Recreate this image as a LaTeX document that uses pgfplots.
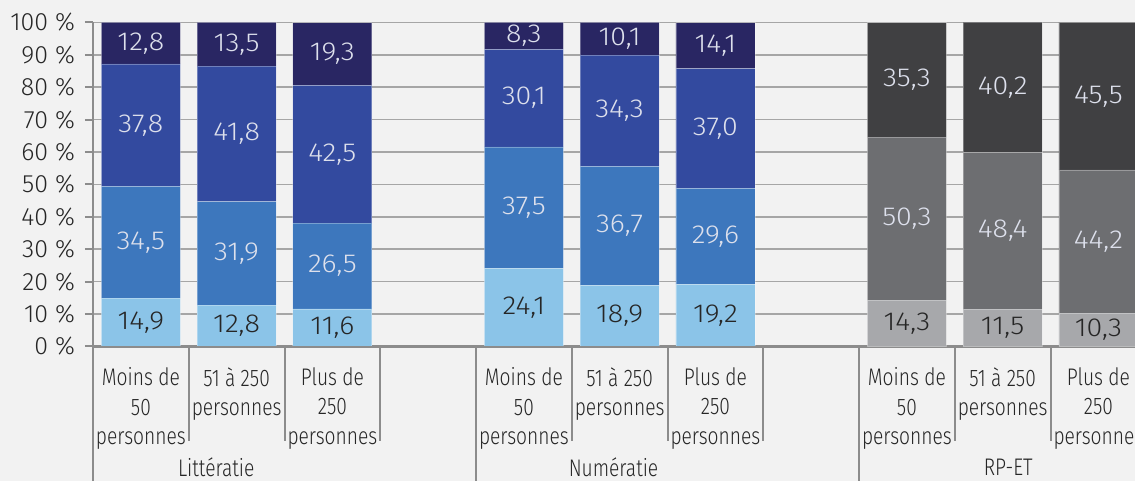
\documentclass[border=0pt]{standalone}
\usepackage{pgfplots}
\pgfplotsset{compat=1.18}
\usepackage{fontspec}
\setmainfont{Fira Sans}[UprightFont={* Light}, FakeStretch=0.8]
\newfontfamily\numf{Fira Sans}[UprightFont={* Light}, FakeStretch=1.1]
\newfontfamily\tickf{Fira Sans}[UprightFont={* Light}, FakeStretch=1.0]
\definecolor{bgc}{HTML}{F2F2F2}
\definecolor{lb}{HTML}{8BC4E8}
\definecolor{mb}{HTML}{3D77BD}
\definecolor{rb}{HTML}{334A9F}
\definecolor{nv}{HTML}{292663}
\definecolor{ga}{HTML}{A7A8AB}
\definecolor{gb}{HTML}{6D6E71}
\definecolor{gc}{HTML}{404042}
\definecolor{axc}{HTML}{8C8C8C}
\definecolor{grc}{HTML}{A6A6A6}
\definecolor{dtxt}{HTML}{262626}
\definecolor{ltxt}{HTML}{DDE0EC}
\pgfplotsset{
  base/.style={
    scale only axis, width=521pt, height=162pt,
    xmin=-0.5, xmax=10.382, ymin=0, ymax=100,
    /pgf/number format/assume math mode=true,
  },
  seg/.style={fill=#1, draw=white, draw opacity=0.3, line width=0.4pt},
}
\newcommand{\lab}{\fontsize{12}{14.75}\selectfont}
\newcommand{\vlab}{\numf\fontsize{13}{15}\selectfont}
\newcommand{\tlab}{\tickf\fontsize{12.5}{15}\selectfont}
\begin{document}
\begin{tikzpicture}
\fill[bgc] (-46.5pt,-67.25pt) rectangle (521pt,173.25pt);
% Axis A: grid, y axis, blue bars
\begin{axis}[base,
  ybar stacked, bar width=39.5pt,
  axis x line*=bottom, axis y line*=left,
  axis line style={axc, line width=1pt},
  xtick=\empty,
  ytick={0,10,...,100},
  yticklabels={0 \%,10 \%,20 \%,30 \%,40 \%,50 \%,60 \%,70 \%,80 \%,90 \%,100 \%},
  yticklabel style={font=\tlab, text=dtxt, xshift=-1.5pt},
  tick align=outside, major tick length=4pt,
  tick style={axc, line width=1pt},
  ymajorgrids, grid style={grc, line width=0.8pt},
]
\addplot[seg=lb] coordinates {(0,14.9) (1,12.8) (2,11.6) (4,24.1) (5,18.9) (6,19.2)};
\addplot[seg=mb] coordinates {(0,34.5) (1,31.9) (2,26.5) (4,37.5) (5,36.7) (6,29.6)};
\addplot[seg=rb] coordinates {(0,37.8) (1,41.8) (2,42.5) (4,30.1) (5,34.3) (6,37.0)};
\addplot[seg=nv] coordinates {(0,12.8) (1,13.5) (2,19.3) (4,8.3) (5,10.1) (6,14.1)};
\end{axis}
% Axis B: grey bars, category separators
\begin{axis}[base,
  ybar stacked, bar width=39.5pt,
  axis x line*=bottom, axis y line=none,
  axis line style={axc, line width=1pt},
  ytick=\empty,
  xtick={-0.5,3.5,7.5}, xticklabels={},
  minor xtick={0.5,1.5,2.5,4.5,5.5,6.5,8.5,9.5},
  tick align=outside, major tick length=72pt, minor tick length=47pt,
  tick style={axc, line width=1pt},
]
\addplot[seg=ga] coordinates {(8,14.3) (9,11.5) (10,10.3)};
\addplot[seg=gb] coordinates {(8,50.3) (9,48.4) (10,44.2)};
\addplot[seg=gc] coordinates {(8,35.3) (9,40.2) (10,45.5)};
\end{axis}
% Axis C: value labels, category labels
\begin{axis}[base, clip=false,
  axis line style={draw=none},
  ytick=\empty,
  xtick={0,1,2,4,5,6,8,9,10},
  xticklabels={{Moins de\\50\\personnes},{51 à 250\\personnes},{Plus de\\250\\personnes},
               {Moins de\\50\\personnes},{51 à 250\\personnes},{Plus de\\250\\personnes},
               {Moins de\\50\\personnes},{51 à 250\\personnes},{Plus de\\250\\personnes}},
  xticklabel style={font=\lab, text=dtxt, align=center, anchor=north, yshift=-7pt},
  major tick length=0pt, tick style={draw=none},
]
\addplot[draw=none, mark=none, nodes near coords, point meta=explicit symbolic,
  every node near coord/.append style={anchor=center, text=dtxt, font=\vlab}]
  table[meta=l] {
x y l
0 7.45 14,9
1 6.4 12,8
2 5.8 11,6
4 12.05 24,1
5 9.45 18,9
6 9.6 19,2
8 7.15 14,3
9 5.75 11,5
10 5.15 10,3
};
\addplot[draw=none, mark=none, nodes near coords, point meta=explicit symbolic,
  every node near coord/.append style={anchor=center, text=ltxt, font=\vlab}]
  table[meta=l] {
x y l
0 32.15 34,5
1 28.75 31,9
2 24.85 26,5
4 42.85 37,5
5 37.25 36,7
6 34 29,6
0 68.3 37,8
1 65.6 41,8
2 59.35 42,5
4 76.65 30,1
5 72.75 34,3
6 67.3 37,0
0 93.6 12,8
1 93.25 13,5
2 90.25 19,3
4 95.85 8,3
5 94.95 10,1
6 92.85 14,1
8 39.45 50,3
9 35.7 48,4
10 32.4 44,2
8 82.25 35,3
9 80 40,2
10 77.25 45,5
};
\node[font=\lab, text=dtxt] at (axis cs:0.787,0) [yshift=-60.5pt] {Littératie};
\node[font=\lab, text=dtxt] at (axis cs:4.936,0) [yshift=-60.5pt] {Numératie};
\node[font=\lab, text=dtxt] at (axis cs:9.058,0) [yshift=-60.5pt] {RP-ET};
\end{axis}
\pgfresetboundingbox
\path (-46.5pt,-67.25pt) rectangle (521pt,173.25pt);
\end{tikzpicture}
\end{document}
